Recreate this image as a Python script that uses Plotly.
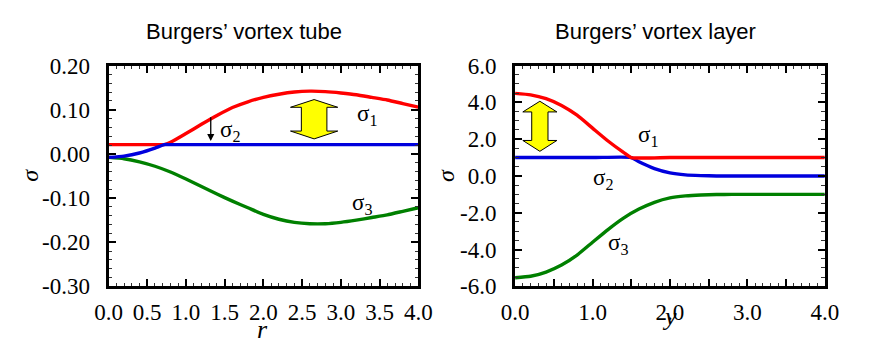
import plotly.graph_objects as go

# ---------------- data ----------------
# Left: Burgers' vortex tube
tube_r_s1 = [0, 0.2, 0.4, 0.6, 0.72, 0.8, 1.0, 1.2, 1.4, 1.6, 1.8, 2.0, 2.2, 2.4, 2.6, 2.8, 3.0, 3.2, 3.4, 3.6, 3.8, 4.0]
tube_s1 = [0.021, 0.021, 0.021, 0.021, 0.021, 0.026, 0.046, 0.067, 0.087, 0.105, 0.118, 0.128, 0.135, 0.140, 0.142, 0.141, 0.138, 0.134, 0.128, 0.122, 0.114, 0.106]
tube_r_s2 = [0, 0.2, 0.4, 0.6, 0.72, 0.8, 1.0, 2.0, 3.0, 4.0]
tube_s2 = [-0.008, -0.005, 0.002, 0.013, 0.021, 0.021, 0.021, 0.021, 0.021, 0.021]
tube_r_s3 = [0, 0.2, 0.4, 0.6, 0.8, 1.0, 1.2, 1.4, 1.6, 1.8, 2.0, 2.2, 2.4, 2.6, 2.8, 3.0, 3.2, 3.4, 3.6, 3.8, 4.0]
tube_s3 = [-0.008, -0.011, -0.018, -0.028, -0.041, -0.057, -0.074, -0.091, -0.107, -0.122, -0.137, -0.148, -0.155, -0.158, -0.158, -0.155, -0.150, -0.144, -0.138, -0.130, -0.122]

# Right: Burgers' vortex layer
layer_y_s1 = [0, 0.2, 0.4, 0.6, 0.8, 1.0, 1.2, 1.4, 1.5, 2.0, 3.0, 4.0]
layer_s1 = [4.49, 4.41, 4.20, 3.83, 3.30, 2.60, 1.90, 1.28, 1.0, 1.0, 1.0, 1.0]
layer_y_s2 = [0, 1.0, 1.5, 1.6, 1.8, 2.0, 2.2, 2.4, 2.6, 3.0, 4.0]
layer_s2 = [1.0, 1.0, 1.0, 0.77, 0.40, 0.17, 0.06, 0.02, 0.0, 0.0, 0.0]
layer_y_s3 = [0, 0.2, 0.4, 0.6, 0.8, 1.0, 1.2, 1.4, 1.6, 1.8, 2.0, 2.2, 2.4, 2.6, 2.8, 3.0, 4.0]
layer_s3 = [-5.53, -5.45, -5.22, -4.84, -4.30, -3.60, -2.91, -2.29, -1.80, -1.43, -1.19, -1.08, -1.03, -1.01, -1.0, -1.0, -1.0]

# tick labels
tube_xticks = [0, 0.5, 1.0, 1.5, 2.0, 2.5, 3.0, 3.5, 4.0]
tube_xtext = ["0.0", "0.5", "1.0", "1.5", "2.0", "2.5", "3.0", "3.5", "4.0"]
tube_yticks = [-0.3, -0.2, -0.1, 0.0, 0.1, 0.2]
tube_ytext = ["-0.30", "-0.20", "-0.10", "0.00", "0.10", "0.20"]
layer_xticks = [0, 0.5, 1.0, 1.5, 2.0, 2.5, 3.0, 3.5, 4.0]
layer_xtext = ["0.0", "", "1.0", "", "2.0", "", "3.0", "", "4.0"]
layer_yticks = [-6, -4, -2, 0, 2, 4, 6]
layer_ytext = ["-6.0", "-4.0", "-2.0", "0.0", "2.0", "4.0", "6.0"]

RED, BLUE, GREEN = "#ff0000", "#0000dd", "#008000"
SERIF = "Liberation Serif"
SANS = "Liberation Sans"

fig = go.Figure()

def add_line(x, y, color, xa, ya):
    fig.add_trace(go.Scatter(x=x, y=y, mode="lines", xaxis=xa, yaxis=ya,
                             line=dict(color=color, width=3.4, shape="spline", smoothing=0.5),
                             showlegend=False, hoverinfo="skip"))

add_line(tube_r_s1, tube_s1, RED, "x", "y")
add_line(tube_r_s3, tube_s3, GREEN, "x", "y")
add_line(tube_r_s2, tube_s2, BLUE, "x", "y")
add_line(layer_y_s2, layer_s2, BLUE, "x2", "y2")
add_line(layer_y_s1, layer_s1, RED, "x2", "y2")
add_line(layer_y_s3, layer_s3, GREEN, "x2", "y2")

def axis_common(standoff, **kw):
    d = dict(showline=True, linewidth=3, linecolor="black", mirror="ticks",
             ticks="inside", ticklen=7, tickwidth=1.5, tickcolor="black",
             showgrid=False, zeroline=False, tickmode="array",
             ticklabelstandoff=standoff,
             tickfont=dict(family=SERIF, size=23, color="black"))
    d.update(kw)
    return d

minor_kw = dict(ticks="inside", ticklen=3.5, tickwidth=1, tickcolor="#333", tick0=0)

fig.update_layout(
    width=872, height=347, margin=dict(l=0, r=0, t=0, b=0),
    paper_bgcolor="white", plot_bgcolor="white",
    xaxis=axis_common(3, domain=[0.1120, 0.4790], range=[0, 4], anchor="y",
                      tickvals=tube_xticks, ticktext=tube_xtext,
                      minor=dict(dtick=0.1, **minor_kw)),
    yaxis=axis_common(11, domain=[0.1478, 0.8337], range=[-0.3, 0.2], anchor="x",
                      tickvals=tube_yticks, ticktext=tube_ytext,
                      minor=dict(dtick=0.02, **minor_kw)),
    xaxis2=axis_common(3, domain=[0.5937, 0.9607], range=[0, 4], anchor="y2",
                       tickvals=layer_xticks, ticktext=layer_xtext,
                       minor=dict(dtick=0.1, **minor_kw)),
    yaxis2=axis_common(11, domain=[0.1478, 0.8337], range=[-6, 6], anchor="x2",
                       tickvals=layer_yticks, ticktext=layer_ytext,
                       minor=dict(dtick=0.5, **minor_kw)),
)

# yellow double arrows (decorations)
def double_arrow(xc, hh, sh, ytop, yht, yhb, ybot):
    pts = [(xc, ytop), (xc + hh, yht), (xc + sh, yht), (xc + sh, yhb), (xc + hh, yhb),
           (xc, ybot), (xc - hh, yhb), (xc - sh, yhb), (xc - sh, yht), (xc - hh, yht)]
    return "M " + " L ".join(f"{a},{b}" for a, b in pts) + " Z"

fig.add_shape(type="path", xref="x", yref="y",
              path=double_arrow(2.655, 0.305, 0.165, 0.123, 0.1055, 0.0517, 0.034),
              fillcolor="#ffff00", line=dict(color="black", width=1))
fig.add_shape(type="path", xref="x2", yref="y2",
              path=double_arrow(0.32, 0.22, 0.105, 4.06, 3.48, 1.93, 1.34),
              fillcolor="#ffff00", line=dict(color="black", width=1))

# small black arrow in the tube panel
fig.add_annotation(x=1.32, y=0.029, ax=1.32, ay=0.0866, xref="x", yref="y", axref="x", ayref="y",
                   text="", showarrow=True, arrowhead=2, arrowsize=1.1, arrowwidth=1.3, arrowcolor="black")

lab = dict(family=SERIF, size=23, color="black")
def sig(text, x, y, xr, yr):
    fig.add_annotation(x=x, y=y, xref=xr, yref=yr, text=text, showarrow=False, font=lab,
                       xanchor="center", yanchor="middle")

sig("σ<sub>1</sub>", 3.34, 0.089, "x", "y")
sig("σ<sub>2</sub>", 1.57, 0.052, "x", "y")
sig("σ<sub>3</sub>", 3.27, -0.113, "x", "y")
sig("σ<sub>1</sub>", 1.71, 2.18, "x2", "y2")
sig("σ<sub>2</sub>", 1.14, -0.17, "x2", "y2")
sig("σ<sub>3</sub>", 1.33, -3.72, "x2", "y2")

# titles
for txt, px in [("Burgers’ vortex tube", 238 / 872), ("Burgers’ vortex layer", 663 / 872)]:
    fig.add_annotation(x=px, y=1 - 21 / 347, xref="paper", yref="paper", text=txt, showarrow=False,
                       font=dict(family=SANS, size=22, color="black"), xanchor="center", yanchor="middle")

# axis titles
for px, py in [(17, 176), (447, 176)]:
    fig.add_annotation(x=px / 872, y=1 - py / 347, xref="paper", yref="paper", text="<i>σ</i>",
                       textangle=-90, showarrow=False, font=dict(family=SERIF, size=24, color="black"),
                       xanchor="center", yanchor="middle")
fig.add_annotation(x=257 / 872, y=1 - 324 / 347, xref="paper", yref="paper", text="<i>r</i>",
                   showarrow=False, font=dict(family=SERIF, size=26, color="black"),
                   xanchor="center", yanchor="top")
fig.add_annotation(x=677 / 872, y=1 - 310 / 347, xref="paper", yref="paper", text="<i>y</i>",
                   showarrow=False, font=dict(family=SERIF, size=26, color="black"),
                   xanchor="center", yanchor="top")

fig.write_html("out.html")
